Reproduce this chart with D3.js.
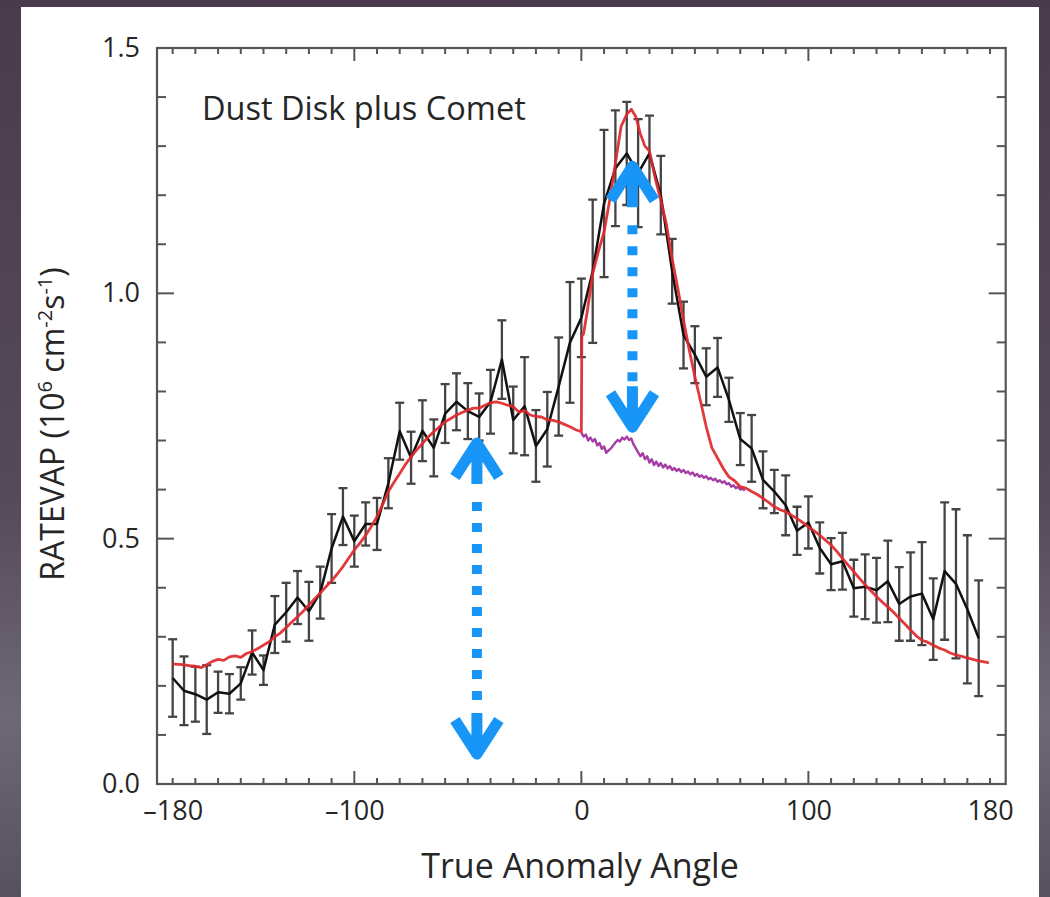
<!DOCTYPE html>
<html>
<head>
<meta charset="utf-8">
<script src="https://cdn.jsdelivr.net/npm/d3@7"></script>
<style>
  html, body { margin: 0; padding: 0; background: #4a3d4c; }
  svg { display: block; }
</style>
</head>
<body>
<script>
// Observed evaporation rate, binned every 5 degrees of true anomaly
const obsAngles = d3.range(-180, 180, 5);
const obsValues = [
  0.216, 0.190, 0.183, 0.172, 0.187, 0.184, 0.205, 0.268, 0.232, 0.325,
  0.350, 0.380, 0.352, 0.390, 0.480, 0.545, 0.495, 0.530, 0.530, 0.613,
  0.719, 0.665, 0.720, 0.685, 0.755, 0.779, 0.760, 0.748, 0.779, 0.865,
  0.742, 0.770, 0.689, 0.723, 0.810, 0.900, 0.950, 1.045, 1.183, 1.255,
  1.285, 1.245, 1.285, 1.200, 1.045, 0.915, 0.875, 0.830, 0.849, 0.783,
  0.703, 0.684, 0.620, 0.596, 0.568, 0.516, 0.533, 0.481, 0.448, 0.454,
  0.399, 0.402, 0.395, 0.413, 0.367, 0.382, 0.388, 0.336, 0.434, 0.408,
  0.356, 0.297
];
const obsErrors = [
  0.079, 0.070, 0.056, 0.070, 0.042, 0.040, 0.033, 0.045, 0.030, 0.058,
  0.060, 0.054, 0.060, 0.053, 0.070, 0.058, 0.052, 0.044, 0.053, 0.051,
  0.058, 0.053, 0.062, 0.058, 0.060, 0.058, 0.057, 0.048, 0.065, 0.080,
  0.068, 0.100, 0.073, 0.076, 0.100, 0.123, 0.080, 0.146, 0.150, 0.118,
  0.105, 0.110, 0.077, 0.080, 0.066, 0.068, 0.058, 0.058, 0.060, 0.045,
  0.053, 0.068, 0.058, 0.044, 0.061, 0.049, 0.053, 0.052, 0.053, 0.058,
  0.058, 0.066, 0.066, 0.083, 0.075, 0.090, 0.105, 0.083, 0.140, 0.152,
  0.151, 0.118
];

// Model: dust disk plus comet (red)
const modelAngles = [
  -180, -177.5, -175, -172.5, -170, -167.5, -165, -162.5, -160, -157.5,
  -155, -152.5, -150, -147.5, -145, -142.5, -140, -137.5, -135, -132.5,
  -130, -127.5, -125, -122.5, -120, -117.5, -115, -112.5, -110, -107.5,
  -105, -102.5, -100, -97.5, -95, -92.5, -90, -87.5, -85, -82.5,
  -80, -77.5, -75, -72.5, -70, -67.5, -65, -62.5, -60, -57.5,
  -55, -52.5, -50, -47.5, -45, -42.5, -40, -37.5, -35, -32.5,
  -30, -27.5, -25, -22.5, -20, -17.5, -15, -12.5, -10, -7.5,
  -5, -2.5, 0, 0.2, 1, 2.5, 5, 7.5, 10, 12.5,
  15, 17.5, 20, 22, 24, 26, 28, 30, 32.5, 35,
  37.5, 40, 42.5, 45, 47.5, 50, 52.5, 55, 57.5, 60,
  62.5, 65, 67.5, 70, 72.5, 75, 77.5, 80, 82.5, 85,
  87.5, 90, 92.5, 95, 97.5, 100, 102.5, 105, 107.5, 110,
  112.5, 115, 117.5, 120, 122.5, 125, 127.5, 130, 132.5, 135,
  137.5, 140, 142.5, 145, 147.5, 150, 152.5, 155, 157.5, 160,
  162.5, 165, 167.5, 170, 172.5, 175, 177.5, 179.5
];
const modelValues = [
  0.245, 0.244, 0.243, 0.241, 0.240, 0.237, 0.243, 0.250, 0.254, 0.252,
  0.259, 0.261, 0.258, 0.266, 0.270, 0.276, 0.283, 0.290, 0.300, 0.308,
  0.319, 0.330, 0.341, 0.352, 0.365, 0.377, 0.389, 0.402, 0.414, 0.428,
  0.443, 0.460, 0.477, 0.491, 0.507, 0.525, 0.545, 0.570, 0.596, 0.615,
  0.633, 0.651, 0.667, 0.681, 0.694, 0.707, 0.718, 0.728, 0.738, 0.745,
  0.752, 0.757, 0.762, 0.766, 0.766, 0.772, 0.777, 0.779, 0.776, 0.772,
  0.769, 0.758, 0.761, 0.752, 0.749, 0.748, 0.742, 0.741, 0.738, 0.733,
  0.728, 0.722, 0.718, 0.912, 0.918, 0.960, 1.040, 1.085, 1.125, 1.190,
  1.265, 1.340, 1.365, 1.375, 1.360, 1.325, 1.300, 1.290, 1.235, 1.190,
  1.140, 1.070, 1.010, 0.945, 0.885, 0.830, 0.780, 0.728, 0.685, 0.664,
  0.643, 0.626, 0.618, 0.606, 0.603, 0.596, 0.590, 0.582, 0.574, 0.565,
  0.559, 0.555, 0.548, 0.541, 0.533, 0.524, 0.516, 0.507, 0.497, 0.487,
  0.474, 0.460, 0.446, 0.433, 0.419, 0.406, 0.394, 0.382, 0.371, 0.361,
  0.350, 0.338, 0.326, 0.314, 0.302, 0.293, 0.289, 0.283, 0.277, 0.273,
  0.267, 0.263, 0.260, 0.257, 0.254, 0.251, 0.249, 0.247
];

// Model: dust disk alone over the comet passage (purple)
const diskAngles = d3.range(0, 73, 1);
const diskValues = [
  0.716, 0.708, 0.712, 0.700, 0.706, 0.698, 0.703, 0.690, 0.695, 0.683,
  0.688, 0.675, 0.680, 0.684, 0.690, 0.696, 0.701, 0.698, 0.706, 0.702,
  0.708, 0.701, 0.704, 0.692, 0.684, 0.676, 0.668, 0.674, 0.662, 0.668,
  0.655, 0.662, 0.650, 0.657, 0.648, 0.654, 0.645, 0.651, 0.643, 0.648,
  0.640, 0.644, 0.638, 0.642, 0.636, 0.640, 0.634, 0.637, 0.631, 0.635,
  0.628, 0.632, 0.626, 0.629, 0.624, 0.627, 0.621, 0.624, 0.619, 0.622,
  0.616, 0.619, 0.614, 0.617, 0.611, 0.613, 0.606, 0.609, 0.603, 0.606,
  0.600, 0.602, 0.598
];

// Double-headed arrows: angle, lower end, upper end
const arrowAngles = [-46, 22.5];
const arrowLow = [0.055, 0.721];
const arrowHigh = [0.701, 1.265];

// Axis ticks and labels
const xLabelTicks = [-180, -100, 0, 100, 180];
const xMajorTicks = [-100, 0, 100];
const xMinorTicks = d3.range(-180, 181, 10);
const yLabelTicks = [0, 0.5, 1.0, 1.5];
const yMinorTicks = d3.range(0, 1.51, 0.1);

const W = 1050, H = 897;
const plot = { left: 157, right: 1005.7, top: 48, bottom: 784 };

const svg = d3.select("body").append("svg")
  .attr("width", W).attr("height", H);

// Backdrop
const defs = svg.append("defs");
const bg = defs.append("linearGradient").attr("id", "bg")
  .attr("x1", 0).attr("y1", 0).attr("x2", 0).attr("y2", 1);
bg.append("stop").attr("offset", "0%").attr("stop-color", "#493b4b");
bg.append("stop").attr("offset", "55%").attr("stop-color", "#554a57");
bg.append("stop").attr("offset", "80%").attr("stop-color", "#6e6875");
bg.append("stop").attr("offset", "100%").attr("stop-color", "#57505e");
svg.append("rect").attr("width", W).attr("height", H).attr("fill", "url(#bg)");
svg.append("rect").attr("x", 21).attr("y", 7).attr("width", 1018).attr("height", H - 7)
  .attr("fill", "#ffffff");

const x = d3.scaleLinear().domain([-186.9, 186.9]).range([plot.left, plot.right]);
const y = d3.scaleLinear().domain([0, 1.5]).range([plot.bottom, plot.top]);

const frameColor = "#555";
const textColor = "#262626";
const g = svg.append("g");

// Minor/major ticks on all four sides, pointing inward
const tickG = g.append("g").attr("stroke", frameColor).attr("stroke-width", 2);
xMinorTicks.forEach(v => {
  const len = xMajorTicks.includes(v) ? 13 : 6;
  tickG.append("line").attr("x1", x(v)).attr("x2", x(v))
    .attr("y1", plot.bottom).attr("y2", plot.bottom - len);
  tickG.append("line").attr("x1", x(v)).attr("x2", x(v))
    .attr("y1", plot.top).attr("y2", plot.top + len);
});
yMinorTicks.forEach(v => {
  const major = yLabelTicks.some(t => Math.abs(t - v) < 1e-6);
  const len = major ? 17 : 9;
  tickG.append("line").attr("x1", plot.left).attr("x2", plot.left + len)
    .attr("y1", y(v)).attr("y2", y(v));
  tickG.append("line").attr("x1", plot.right).attr("x2", plot.right - len)
    .attr("y1", y(v)).attr("y2", y(v));
});

// Frame
g.append("rect")
  .attr("x", plot.left).attr("y", plot.top)
  .attr("width", plot.right - plot.left).attr("height", plot.bottom - plot.top)
  .attr("fill", "none").attr("stroke", frameColor).attr("stroke-width", 2.2);

// Tick labels through D3 axes (lines hidden, labels only)
const fontFamily = "'Open Sans', 'Noto Sans', sans-serif";
const xAxis = d3.axisBottom(x).tickValues(xLabelTicks).tickSize(0).tickPadding(0)
  .tickFormat(d => d < 0 ? "\u2013" + Math.abs(d) : String(d));
const xa = g.append("g").attr("transform", `translate(0,${plot.bottom + 17})`).call(xAxis);
xa.select(".domain").remove();
xa.selectAll("text").attr("font-family", fontFamily).attr("font-size", 27)
  .attr("fill", textColor).attr("dy", "0.71em");

const yAxis = d3.axisLeft(y).tickValues(yLabelTicks).tickSize(0).tickPadding(0)
  .tickFormat(d3.format(".1f"));
const ya = g.append("g").attr("transform", `translate(${plot.left - 17},0)`).call(yAxis);
ya.select(".domain").remove();
ya.selectAll("text").attr("font-family", fontFamily).attr("font-size", 27)
  .attr("fill", textColor);

// Axis titles
svg.append("text")
  .attr("x", 580).attr("y", 878)
  .attr("text-anchor", "middle")
  .attr("font-family", fontFamily).attr("font-size", 34).attr("fill", textColor)
  .text("True Anomaly Angle");

const yTitle = svg.append("text")
  .attr("transform", `translate(64,424) rotate(-90)`)
  .attr("text-anchor", "middle")
  .attr("font-family", fontFamily).attr("font-size", 32).attr("fill", textColor);
yTitle.append("tspan").text("RATEVAP (10");
yTitle.append("tspan").attr("dy", -12).attr("font-size", 20).text("6");
yTitle.append("tspan").attr("dy", 12).text(" cm");
yTitle.append("tspan").attr("dy", -12).attr("font-size", 20).text("-2");
yTitle.append("tspan").attr("dy", 12).text("s");
yTitle.append("tspan").attr("dy", -12).attr("font-size", 20).text("-1");
yTitle.append("tspan").attr("dy", 12).text(")");

svg.append("text")
  .attr("x", 202).attr("y", 120)
  .attr("font-family", fontFamily).attr("font-size", 32.5).attr("fill", textColor)
  .text("Dust Disk plus Comet");

// Data layer clipped to the frame
defs.append("clipPath").attr("id", "plotClip").append("rect")
  .attr("x", plot.left).attr("y", plot.top)
  .attr("width", plot.right - plot.left).attr("height", plot.bottom - plot.top);
const data = g.append("g").attr("clip-path", "url(#plotClip)");

// Error bars
const obs = obsAngles.map((a, i) => ({ a, v: obsValues[i], e: obsErrors[i] }));
const eb = data.append("g").attr("stroke", "#444").attr("stroke-width", 2.3);
obs.forEach(d => {
  eb.append("line").attr("x1", x(d.a)).attr("x2", x(d.a))
    .attr("y1", y(d.v - d.e)).attr("y2", y(d.v + d.e));
  [d.v - d.e, d.v + d.e].forEach(c => {
    eb.append("line").attr("x1", x(d.a) - 4.5).attr("x2", x(d.a) + 4.5)
      .attr("y1", y(c)).attr("y2", y(c));
  });
});

const line = d3.line().x(d => x(d[0])).y(d => y(d[1]));

// Observed curve
data.append("path")
  .datum(obs.map(d => [d.a, d.v]))
  .attr("d", line).attr("fill", "none")
  .attr("stroke", "#111").attr("stroke-width", 2.5).attr("stroke-linejoin", "round");

// Disk-only model
data.append("path")
  .datum(diskAngles.map((a, i) => [a, diskValues[i]]))
  .attr("d", line).attr("fill", "none")
  .attr("stroke", "#a43ea4").attr("stroke-width", 2.4).attr("stroke-linejoin", "round");

// Disk plus comet model
data.append("path")
  .datum(modelAngles.map((a, i) => [a, modelValues[i]]))
  .attr("d", line).attr("fill", "none")
  .attr("stroke", "#e0282c").attr("stroke-width", 2.8).attr("stroke-linejoin", "round")
  .attr("stroke-opacity", 0.92);

// Double-headed dotted arrows
const blue = "#1796f8";
const arrowG = svg.append("g").attr("stroke", blue).attr("fill", "none");
arrowAngles.forEach((a, i) => {
  const ax = x(a), yTop = y(arrowHigh[i]), yBot = y(arrowLow[i]);
  const stem = 44, armX = 22, armY = 37;
  // dotted shaft
  arrowG.append("line").attr("x1", ax).attr("x2", ax)
    .attr("y1", yTop + stem + 18).attr("y2", yBot - stem - 4)
    .attr("stroke-width", 10).attr("stroke-dasharray", "9 12");
  // solid stems and chevrons
  arrowG.append("path")
    .attr("d", `M${ax},${yTop + stem} L${ax},${yTop + 3} M${ax - armX},${yTop + armY} L${ax},${yTop + 3} L${ax + armX},${yTop + armY}`)
    .attr("stroke-width", 11).attr("stroke-linejoin", "round");
  arrowG.append("path")
    .attr("d", `M${ax},${yBot - stem} L${ax},${yBot - 3} M${ax - armX},${yBot - armY} L${ax},${yBot - 3} L${ax + armX},${yBot - armY}`)
    .attr("stroke-width", 11).attr("stroke-linejoin", "round");
});
</script>
</body>
</html>
